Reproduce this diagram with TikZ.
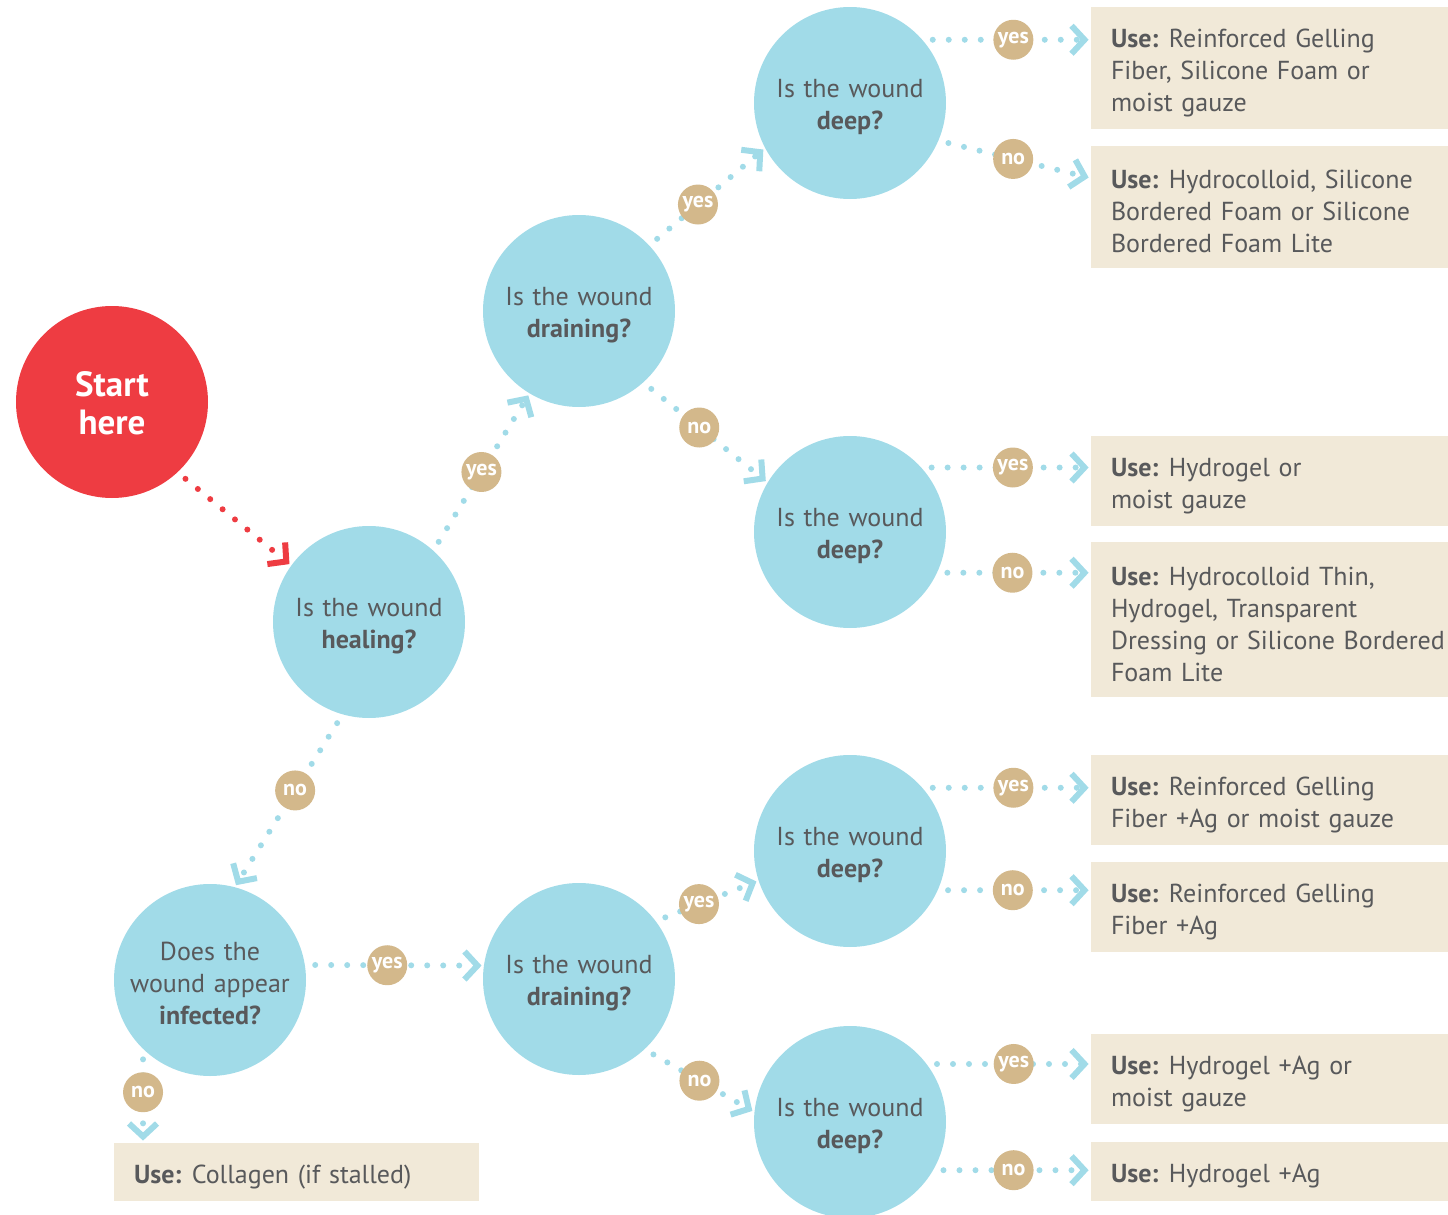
\documentclass[tikz,border=0pt]{standalone}
\usepackage{fontspec}
\setmainfont{PT Sans}
\usetikzlibrary{arrows.meta}
\definecolor{cblue}{HTML}{A1DBE8}
\definecolor{cred}{HTML}{EE3C42}
\definecolor{ctan}{HTML}{D3B88B}
\definecolor{cbox}{HTML}{F1E9D8}
\definecolor{ctext}{HTML}{58595B}
\tikzset{
 q/.style={circle, fill=cblue, minimum size=96pt, inner sep=0pt, text=ctext, text width=82pt, align=center, font=\fontsize{13}{16}\selectfont, execute at begin node={\rule{0pt}{13pt}}},
 starter/.style={circle, fill=cred, minimum size=96pt, inner sep=0pt, text=white, text width=60pt, align=center, font=\fontsize{17.5}{19}\selectfont\bfseries, execute at begin node={\rule{0pt}{14pt}}},
 lbl/.style={circle, fill=ctan, minimum size=20pt, inner sep=0pt, text=white, font=\fontsize{11}{12}\selectfont\bfseries},
 usebox/.style={fill=cbox, text=ctext, minimum width=178.5pt, text width=158.5pt, inner xsep=10pt, inner ysep=0pt, align=left, font=\fontsize{13}{16}\selectfont, execute at begin node={\rule{0pt}{14pt}}},
 flow/.style={draw=cblue, line width=3pt, line cap=round, dash pattern=on 0pt off 8pt, -{Straight Barb[length=6.5pt,width=14pt,line width=3pt]}, shorten <=5pt, shorten >=1pt},
}
\newcommand{\usew}{\textbf{Use:}\hspace{0.4em}}
\begin{document}
\begin{tikzpicture}[x=0.5pt,y=-0.5pt]
\useasboundingbox (0,0) rectangle (1448,1215);
% question circles
\node[starter] (start) at (112,402) {Start\\here};
\node[q] (healing) at (369,622) {Is the wound\\\textbf{healing?}};
\node[q] (drain1) at (579,311) {Is the wound\\\textbf{draining?}};
\node[q] (deep1) at (850,103) {Is the wound\\\textbf{deep?}};
\node[q] (deep2) at (850,532) {Is the wound\\\textbf{deep?}};
\node[q] (deep3) at (850,851) {Is the wound\\\textbf{deep?}};
\node[q] (deep4) at (850,1122) {Is the wound\\\textbf{deep?}};
\node[q] (infected) at (210,980) {Does the\\wound appear\\\textbf{infected?}};
\node[q] (drain2) at (579,979) {Is the wound\\\textbf{draining?}};
% result boxes
\node[usebox, minimum height=61pt] (box1) at (1269.5,68) {\usew Reinforced Gelling\\Fiber, Silicone Foam or\\moist gauze};
\node[usebox, minimum height=61pt] (box2) at (1269.5,207) {\usew Hydrocolloid, Silicone\\Bordered Foam or Silicone\\Bordered Foam Lite};
\node[usebox, minimum height=45pt] (box3) at (1269.5,481) {\usew Hydrogel or\\moist gauze};
\node[usebox, minimum height=77.5pt] (box4) at (1269.5,619.5) {\usew Hydrocolloid Thin,\\Hydrogel, Transparent\\\mbox{Dressing or Silicone Bordered}\\Foam Lite};
\node[usebox, minimum height=45pt] (box5) at (1269.5,800) {\usew Reinforced Gelling\\Fiber +Ag or moist gauze};
\node[usebox, minimum height=45pt] (box6) at (1269.5,907) {\usew Reinforced Gelling\\Fiber +Ag};
\node[usebox, minimum height=45pt] (box7) at (1269.5,1079) {\usew Hydrogel +Ag or\\moist gauze};
\node[usebox, minimum height=29.5pt] (box8) at (1269.5,1171.5) {\usew Hydrogel +Ag};
\node[usebox, minimum width=182.5pt, text width=162.5pt, minimum height=29pt] (collagen) at (296.5,1172) {\usew Collagen (if stalled)};
% connectors
\draw[flow, draw=cred] (start.-47) -- (healing.144);
\draw[flow] (healing.48) -- node[lbl, pos=0.5] {yes} (drain1.239);
\draw[flow] (drain1.43) -- node[lbl, pos=0.42] {yes} (deep1.208);
\draw[flow] (drain1.-48) -- node[lbl, pos=0.45] {no} (deep2.149);
\draw[flow] (healing.254) -- node[lbl, pos=0.44] {no} (infected.75);
\draw[flow] (infected.9) -- node[lbl, pos=0.46] {yes} (drain2.172);
\draw[flow] (drain2.37) -- node[lbl, pos=0.42] {yes} (deep3.198);
\draw[flow] (drain2.-47) -- node[lbl, pos=0.5] {no} (deep4.174);
\draw[flow] (infected.226.6) -- node[lbl, pos=0.46] {no} (infected.226.6 |- collagen.north);
\draw[flow] (deep1.41) -- node[lbl, pos=0.54] {yes} (deep1.41 -| box1.west);
\draw[flow] (deep1.-23) -- node[lbl, pos=0.49] {no} ([yshift=14.5pt]box2.west);
\draw[flow] (deep2.42.6) -- node[lbl, pos=0.54] {yes} (deep2.42.6 -| box3.west);
\draw[flow] (deep2.-25.3) -- node[lbl, pos=0.49] {no} (deep2.-25.3 -| box4.west);
\draw[flow] (deep3.41.8) -- node[lbl, pos=0.54] {yes} (deep3.41.8 -| box5.west);
\draw[flow] (deep3.-24.6) -- node[lbl, pos=0.49] {no} (deep3.-24.6 -| box6.west);
\draw[flow] (deep4.37.9) -- node[lbl, pos=0.53] {yes} (deep4.37.9 -| box7.west);
\draw[flow] (deep4.-30.7) -- node[lbl, pos=0.51] {no} (deep4.-30.7 -| box8.west);
\end{tikzpicture}
\end{document}
